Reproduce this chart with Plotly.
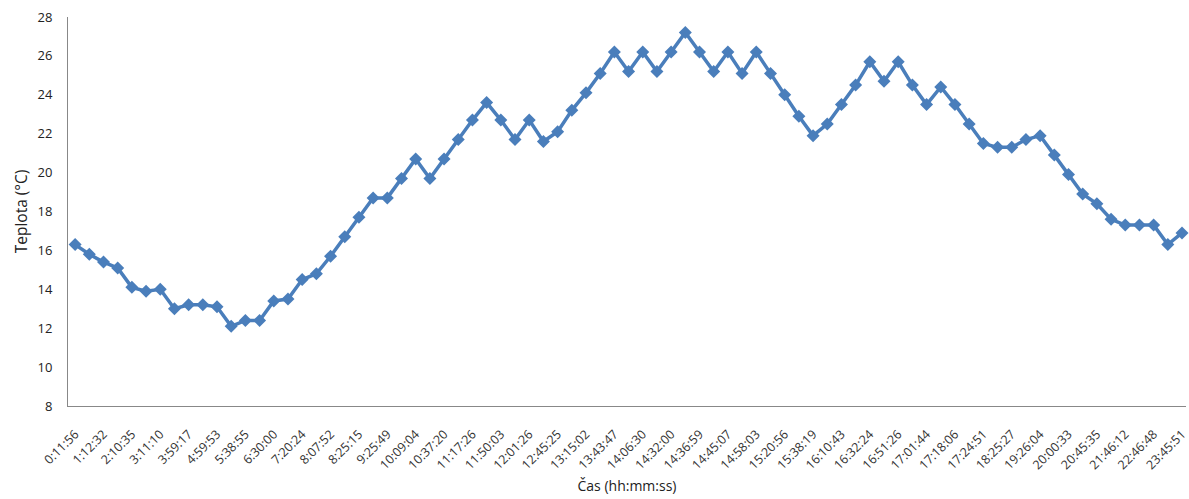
import plotly.graph_objects as go

# Measurement times (every second reading is labelled on the axis)
time_labels = [
    "0:11:56", "1:12:32", "2:10:35", "3:11:10", "3:59:17", "4:59:53", "5:38:55",
    "6:30:00", "7:20:24", "8:07:52", "8:25:15", "9:25:49", "10:09:04", "10:37:20",
    "11:17:26", "11:50:03", "12:01:26", "12:45:25", "13:15:02", "13:43:47",
    "14:06:30", "14:32:00", "14:36:59", "14:45:07", "14:58:03", "15:20:56",
    "15:38:19", "16:10:43", "16:32:24", "16:51:26", "17:01:44", "17:18:06",
    "17:24:51", "18:25:27", "19:26:04", "20:00:33", "20:45:35", "21:46:12",
    "22:46:48", "23:45:51",
]

# Temperature readings in °C
temperature = [
    16.3, 15.8, 15.4, 15.1, 14.1, 13.9, 14.0, 13.0, 13.2, 13.2,
    13.1, 12.1, 12.4, 12.4, 13.4, 13.5, 14.5, 14.8, 15.7, 16.7,
    17.7, 18.7, 18.7, 19.7, 20.7, 19.7, 20.7, 21.7, 22.7, 23.6,
    22.7, 21.7, 22.7, 21.6, 22.1, 23.2, 24.1, 25.1, 26.2, 25.2,
    26.2, 25.2, 26.2, 27.2, 26.2, 25.2, 26.2, 25.1, 26.2, 25.1,
    24.0, 22.9, 21.9, 22.5, 23.5, 24.5, 25.7, 24.7, 25.7, 24.5,
    23.5, 24.4, 23.5, 22.5, 21.5, 21.3, 21.3, 21.7, 21.9, 20.9,
    19.9, 18.9, 18.4, 17.6, 17.3, 17.3, 17.3, 16.3, 16.9,
]

x_index = list(range(len(temperature)))
label_positions = x_index[::2]

font_family = "Open Sans, Noto Sans, sans-serif"

fig = go.Figure(
    go.Scatter(
        x=x_index,
        y=temperature,
        mode="lines+markers",
        line=dict(color="#4A7EBB", width=3.5),
        marker=dict(symbol="diamond", size=10, color="#4A7EBB"),
        showlegend=False,
        cliponaxis=False,
    )
)

fig.update_layout(
    width=1189,
    height=499,
    margin=dict(l=68, r=0, t=17, b=93),
    paper_bgcolor="white",
    plot_bgcolor="white",
    font=dict(family=font_family, size=13, color="#222222"),
    xaxis=dict(
        range=[-0.5, 78.28],
        tickmode="array",
        tickvals=label_positions,
        ticktext=time_labels,
        tickangle=-45,
        tickfont=dict(size=12.5, color="#333333"),
        ticklabeloverflow="allow",
        showgrid=False,
        zeroline=False,
        showline=True,
        linecolor="#888888",
        linewidth=1,
        ticks="outside",
        ticklen=15,
        tickcolor="rgba(0,0,0,0)",
        title=dict(text="Čas (hh:mm:ss)", font=dict(size=14), standoff=9),
    ),
    yaxis=dict(
        range=[8, 28],
        dtick=2,
        tick0=8,
        showgrid=False,
        zeroline=False,
        showline=True,
        linecolor="#888888",
        linewidth=1,
        ticks="outside",
        ticklen=12,
        tickcolor="rgba(0,0,0,0)",
        tickfont=dict(size=13),
        title=dict(text="Teplota (°C)", font=dict(size=15.5), standoff=6),
    ),
)

fig.write_html("out.html")
